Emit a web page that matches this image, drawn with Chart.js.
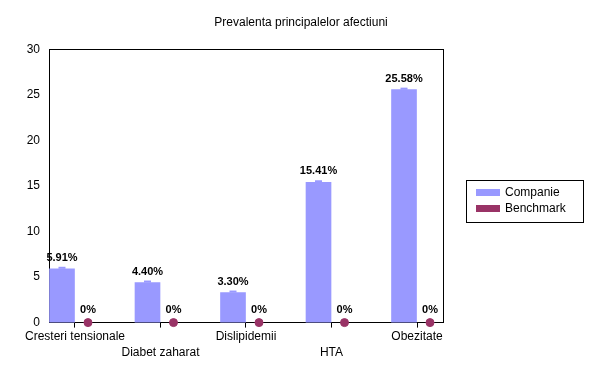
<!DOCTYPE html>
<html>
<head>
<meta charset="utf-8">
<script src="https://cdn.jsdelivr.net/npm/chart.js@4/dist/chart.umd.min.js"></script>
<style>
  html, body { margin: 0; padding: 0; background: #fff; }
  #wrap { width: 602px; height: 376px; }
</style>
</head>
<body>
<div id="wrap"><canvas id="chart"></canvas></div>
<script>
// chart data
const categories = ['Cresteri tensionale', 'Diabet zaharat', 'Dislipidemii', 'HTA', 'Obezitate'];
const companie = [5.91, 4.40, 3.30, 15.41, 25.58];
const benchmark = [0, 0, 0, 0, 0];
const yTicks = [0, 5, 10, 15, 20, 25, 30];

const barColor = '#9999ff';
const benchColor = '#993366';
const fontFamily = '"Liberation Sans", Arial, sans-serif';

Chart.defaults.font.family = fontFamily;
Chart.defaults.font.size = 12;
Chart.defaults.color = '#000';

// bar sits left of the category tick, benchmark dot right of it
const companieData = companie.map((v, i) => ({ x: i - 0.152, y: v }));
const benchData = benchmark.map((v, i) => ({ x: i + 0.152, y: v }));

// plot frame, bar caps, value labels and boxed legend
const frame = {
    id: 'frame',
    beforeDatasetsDraw(chart) {
        const a = chart.chartArea;
        const ctx = chart.ctx;
        ctx.save();
        ctx.strokeStyle = '#000';
        ctx.lineWidth = 1;
        ctx.strokeRect(Math.round(a.left) + 0.5, Math.round(a.top) + 0.5,
            Math.round(a.right - a.left), Math.round(a.bottom - a.top));
        ctx.restore();
    },
    afterDatasetsDraw(chart) {
        const ctx = chart.ctx;
        ctx.save();
        const bars = chart.getDatasetMeta(0).data;
        ctx.fillStyle = barColor;
        bars.forEach(el => ctx.fillRect(el.x - 3.5, el.y - 2, 7, 2));

        ctx.fillStyle = '#000';
        ctx.font = 'bold 11px ' + fontFamily;
        ctx.textAlign = 'center';
        ctx.textBaseline = 'alphabetic';
        bars.forEach((el, i) => ctx.fillText(companie[i].toFixed(2) + '%', el.x, el.y - 8));
        chart.getDatasetMeta(1).data.forEach((el, i) => ctx.fillText(benchmark[i] + '%', el.x, el.y - 10));
        ctx.restore();
    },
    afterDraw(chart) {
        const ctx = chart.ctx;
        const x = chart.chartArea.right + 23;
        const y = 180;
        ctx.save();
        ctx.strokeStyle = '#000';
        ctx.lineWidth = 1;
        ctx.strokeRect(Math.round(x) + 0.5, y + 0.5, 117, 42);
        ctx.font = '12px ' + fontFamily;
        ctx.textBaseline = 'middle';
        ctx.textAlign = 'left';
        chart.data.datasets.forEach((ds, i) => {
            const rowY = y + 9 + i * 16;
            ctx.fillStyle = ds.backgroundColor;
            ctx.fillRect(Math.round(x) + 10, rowY, 24, 7);
            ctx.fillStyle = '#000';
            ctx.fillText(ds.label, Math.round(x) + 39, rowY + 4);
        });
        ctx.restore();
    },
};

const chart = new Chart(document.getElementById('chart'), {
    type: 'bar',
    data: {
        datasets: [
            {
                label: 'Companie',
                data: companieData,
                backgroundColor: barColor,
                borderWidth: 0,
                barThickness: 25,
            },
            {
                type: 'scatter',
                label: 'Benchmark',
                data: benchData,
                backgroundColor: benchColor,
                borderColor: benchColor,
                pointRadius: 4,
                pointHoverRadius: 4,
                clip: false,
            },
        ],
    },
    options: {
        responsive: true,
        maintainAspectRatio: false,
        animation: false,
        layout: {
            padding: { left: 0, right: 0, top: 0, bottom: 14 },
        },
        plugins: {
            title: {
                display: true,
                text: 'Prevalenta principalelor afectiuni',
                font: { size: 12, weight: 'normal' },
                color: '#000',
                padding: { top: 15, bottom: 20 },
            },
            legend: { display: false },
            tooltip: { enabled: false },
        },
        scales: {
            x: {
                type: 'linear',
                offset: false,
                min: -0.304,
                max: 4.304,
                afterBuildTicks: s => { s.ticks = categories.map((c, i) => ({ value: i })); },
                grid: { offset: false, drawOnChartArea: false, drawTicks: true, tickLength: 5, color: '#000' },
                border: { color: '#000' },
                ticks: {
                    autoSkip: false,
                    maxRotation: 0,
                    minRotation: 0,
                    padding: 1,
                    font: { size: 12, lineHeight: 1.35 },
                    color: '#000',
                    callback: v => (v % 2 ? ['', categories[v]] : categories[v]),
                },
            },
            y: {
                min: 0,
                max: 30,
                afterBuildTicks: s => { s.ticks = yTicks.map(v => ({ value: v })); },
                afterFit: s => { s.width = 49; },
                grid: { display: false, drawTicks: false },
                border: { color: '#000' },
                ticks: { padding: 9, font: { size: 12 }, color: '#000' },
            },
            // empty right-hand axis keeps room for the legend box
            y2: {
                position: 'right',
                display: true,
                grid: { display: false, drawTicks: false },
                border: { display: false },
                ticks: { display: false },
                afterFit: s => { s.width = 159; },
            },
        },
    },
    plugins: [frame],
});
</script>
</body>
</html>
